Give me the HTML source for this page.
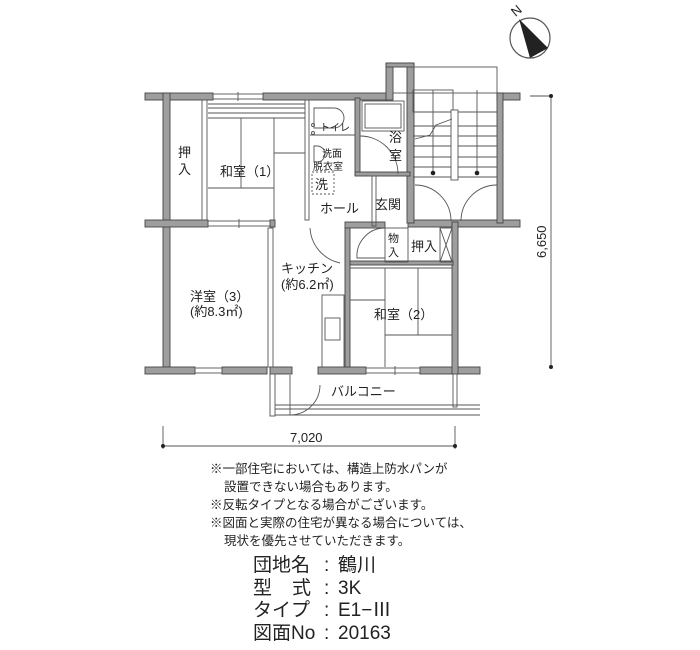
<!DOCTYPE html>
<html><head><meta charset="utf-8"><style>
html,body{margin:0;padding:0;background:#fff;}
svg{display:block;}
text{font-family:"Liberation Sans","Noto Sans CJK JP",sans-serif;fill:#222;}
</style></head><body>
<svg width="700" height="650" viewBox="0 0 700 650" xmlns="http://www.w3.org/2000/svg">
<g fill="#9e9e9e" stroke="#444" stroke-width="0.9">
<rect x="145" y="93" width="68" height="7"/>
<rect x="263" y="93" width="125" height="7"/>
<rect x="497" y="93" width="23" height="7"/>
<rect x="163" y="93" width="7" height="274"/>
<rect x="145" y="220" width="63" height="7"/>
<rect x="270" y="220" width="5" height="7"/>
<rect x="345" y="222" width="40" height="6"/>
<rect x="408" y="220" width="112" height="7"/>
<rect x="145" y="367" width="50" height="7"/>
<rect x="222" y="367" width="45" height="7"/>
<rect x="270" y="367" width="22" height="7"/>
<rect x="318" y="367" width="48" height="7"/>
<rect x="420" y="367" width="60" height="7"/>
<rect x="452" y="222" width="6" height="152"/>
<rect x="386" y="63" width="7" height="37"/>
<rect x="407" y="63" width="7" height="160"/>
<rect x="386" y="63" width="28" height="4"/>
<rect x="497" y="93" width="6" height="130"/>
<rect x="355" y="98" width="5" height="77"/>
<rect x="355" y="172" width="55" height="4"/>
<rect x="345" y="228" width="5" height="139"/>
<rect x="350" y="261" width="103" height="4"/>
</g>
<g fill="none" stroke="#555" stroke-width="0.9">
<rect x="213" y="94" width="50" height="5"/><line x1="238" y1="92" x2="238" y2="101"/>
<rect x="208" y="221" width="62" height="5"/><line x1="239" y1="219" x2="239" y2="228"/>
<rect x="195" y="368" width="27" height="5"/>
<rect x="366" y="368" width="54" height="5"/><line x1="395" y1="366" x2="395" y2="375"/>
<rect x="202" y="100" width="5" height="120"/>
<rect x="305" y="100" width="4" height="120"/>
<line x1="208" y1="104" x2="305" y2="104"/><line x1="208" y1="108" x2="305" y2="108"/><line x1="208" y1="113" x2="305" y2="113"/><line x1="208" y1="118" x2="305" y2="118"/>
<line x1="241" y1="118" x2="241" y2="188"/><line x1="274" y1="118" x2="274" y2="153"/>
<line x1="274" y1="153" x2="305" y2="153"/><line x1="274" y1="153" x2="274" y2="220"/>
<line x1="208" y1="188" x2="274" y2="188"/>
<rect x="268" y="228" width="5" height="139"/>
<rect x="322" y="295" width="22" height="72"/><rect x="325" y="318" width="15" height="22"/>
<line x1="350" y1="268" x2="452" y2="268"/>
<line x1="385" y1="268" x2="385" y2="367"/><line x1="418" y1="268" x2="418" y2="335"/>
<line x1="350" y1="300" x2="385" y2="300"/><line x1="385" y1="335" x2="452" y2="335"/>
<rect x="385" y="228" width="23" height="34"/>
<rect x="440" y="228" width="12" height="34"/><line x1="440" y1="228" x2="452" y2="262"/><line x1="452" y1="228" x2="440" y2="262"/>
<path d="M314 108 h20 a8 8 0 0 1 0 20 h-20 z"/>
<circle cx="313" cy="125" r="1.5"/><circle cx="313" cy="133" r="1.5"/>
<line x1="310" y1="135" x2="355" y2="135"/>
<path d="M314 146 h3 a8 8 0 0 1 0 16 h-3 z"/>
<rect x="312" y="172" width="22" height="22" stroke-dasharray="2,2"/>
<rect x="362" y="101" width="42" height="30"/><rect x="365" y="104" width="36" height="24"/>
<path d="M360 136 a38 38 0 0 1 38 38"/>
<path d="M310 228 a38 38 0 0 0 30 35"/>
<path d="M385 228 a28 28 0 0 0 -28 30 h28"/>
<path d="M415 185 a36 36 0 0 1 36 36"/>
<path d="M497 185 a36 36 0 0 0 -36 36"/>
<path d="M290 375 v40 a30 30 0 0 0 30 -30"/>
<rect x="372" y="176" width="4" height="50"/>
<rect x="393" y="67" width="104" height="26"/>
<rect x="413" y="90" width="40" height="22"/>
<line x1="413" y1="112" x2="497" y2="112"/>
<line x1="413" y1="126" x2="497" y2="126"/><line x1="413" y1="136" x2="497" y2="136"/>
<line x1="413" y1="146" x2="497" y2="146"/><line x1="413" y1="157" x2="497" y2="157"/>
<line x1="413" y1="167" x2="497" y2="167"/><line x1="413" y1="177" x2="497" y2="177"/>
<rect x="451" y="110" width="7" height="70" fill="#fff"/>
<line x1="433" y1="90" x2="433" y2="174"/><line x1="477" y1="90" x2="477" y2="174"/>
<path d="M415 139 l15 -4 l6 -10 l16 -6"/>
<rect x="270" y="374" width="5" height="42"/>
<line x1="275" y1="405" x2="480" y2="405"/><line x1="275" y1="409" x2="480" y2="409"/><line x1="275" y1="415" x2="480" y2="415"/>
<rect x="453" y="374" width="4" height="33"/>
<line x1="163" y1="426" x2="163" y2="449"/><line x1="455" y1="426" x2="455" y2="449"/>
<line x1="163" y1="446" x2="455" y2="446"/>
<line x1="530" y1="96" x2="551" y2="96"/>
<line x1="551" y1="96" x2="551" y2="367"/>
<circle cx="530" cy="38" r="20" stroke-width="1.2"/>
</g>
<g fill="#222">
<circle cx="433" cy="173" r="2.3"/><circle cx="477" cy="173" r="2.3"/>
<circle cx="163" cy="446" r="2"/><circle cx="455" cy="446" r="2"/>
<circle cx="551" cy="96" r="2"/><circle cx="551" cy="367" r="2"/>
<polygon points="519,19 548,48 530,58"/>
</g>
<text x="513" y="18" font-size="13" transform="rotate(-40 513 14)">N</text>
<g font-size="13">
<text x="178" y="157">押</text><text x="178" y="174">入</text>
<text x="220" y="176">和室（1）</text>
<text x="320" y="131" font-size="10">トイレ</text>
<text x="322" y="157" font-size="10">洗面</text>
<text x="313" y="170" font-size="10">脱衣室</text>
<text x="315" y="189">洗</text>
<text x="389" y="142">浴</text><text x="389" y="160">室</text>
<text x="320" y="213">ホール</text>
<text x="375" y="209">玄関</text>
<text x="388" y="242" font-size="11">物</text><text x="388" y="256" font-size="11">入</text>
<text x="411" y="251">押入</text>
<text x="281" y="273">キッチン</text>
<text x="281" y="289">(約6.2㎡)</text>
<text x="190" y="301">洋室（3）</text>
<text x="190" y="316">(約8.3㎡)</text>
<text x="374" y="319">和室（2）</text>
<text x="331" y="396">バルコニー</text>
<text x="290" y="442">7,020</text>
<text x="546" y="258" transform="rotate(-90 546 258)">6,650</text>
</g>
<g font-size="12.5">
<text x="210" y="473">※一部住宅においては、構造上防水パンが</text>
<text x="224" y="491">設置できない場合もあります。</text>
<text x="210" y="509">※反転タイプとなる場合がございます。</text>
<text x="210" y="527">※図面と実際の住宅が異なる場合については、</text>
<text x="224" y="545">現状を優先させていただきます。</text>
</g>
<g font-size="19">
<text x="253" y="571">団地名</text><text x="324" y="571">:</text><text x="338" y="571">鶴川</text>
<text x="253" y="594">型</text><text x="292" y="594">式</text><text x="324" y="594">:</text><text x="338" y="594">3K</text>
<text x="253" y="616">タイプ</text><text x="324" y="616">:</text><text x="338" y="616">E1−Ⅲ</text>
<text x="253" y="639">図面No</text><text x="324" y="639">:</text><text x="338" y="639">20163</text>
</g>
</svg>
</body></html>
